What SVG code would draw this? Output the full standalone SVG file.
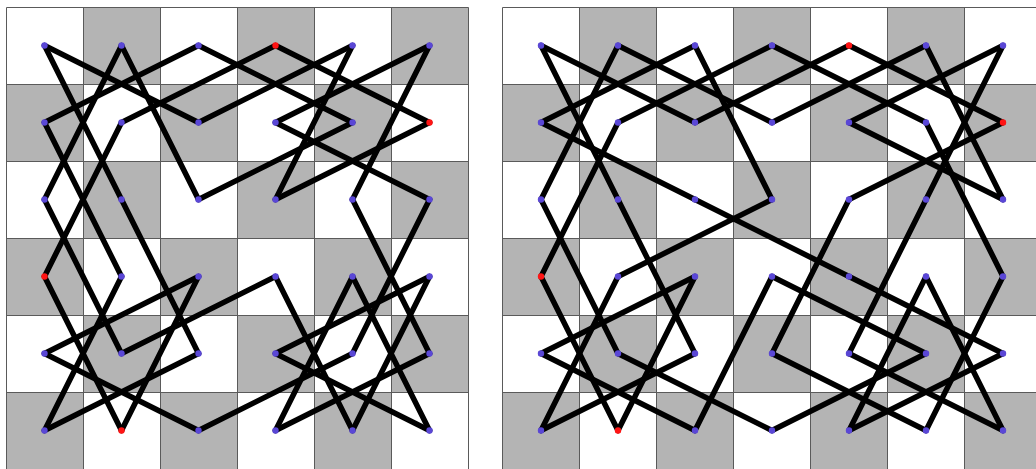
<svg xmlns="http://www.w3.org/2000/svg" width="1036" height="469" viewBox="0 0 1036 469">
<style>
.cell{fill:#b4b4b4}
.grid{stroke:#5a5a5a;stroke-width:1;fill:none}
.conn line{stroke:#000;stroke-width:5.5;stroke-linecap:round}
.dot{fill:#5a47d6}
.red{fill:#ff1414}
</style>
<rect width="1036" height="469" fill="#fff"/>
<defs>
<g id="cellsL">
<rect class="cell" x="0" y="0" width="77" height="77" transform="translate(77,0)"/>
</g>
</defs>
<g id="boardLeft">
<g class="cell">
<rect x="83.5" y="7.5" width="77" height="77"/><rect x="237.5" y="7.5" width="77" height="77"/><rect x="391.5" y="7.5" width="77" height="77"/>
<rect x="6.5" y="84.5" width="77" height="77"/><rect x="160.5" y="84.5" width="77" height="77"/><rect x="314.5" y="84.5" width="77" height="77"/>
<rect x="83.5" y="161.5" width="77" height="77"/><rect x="237.5" y="161.5" width="77" height="77"/><rect x="391.5" y="161.5" width="77" height="77"/>
<rect x="6.5" y="238.5" width="77" height="77"/><rect x="160.5" y="238.5" width="77" height="77"/><rect x="314.5" y="238.5" width="77" height="77"/>
<rect x="83.5" y="315.5" width="77" height="77"/><rect x="237.5" y="315.5" width="77" height="77"/><rect x="391.5" y="315.5" width="77" height="77"/>
<rect x="6.5" y="392.5" width="77" height="77"/><rect x="160.5" y="392.5" width="77" height="77"/><rect x="314.5" y="392.5" width="77" height="77"/>
</g>
<path class="grid" d="M6.5 7.5V469.5M83.5 7.5V469.5M160.5 7.5V469.5M237.5 7.5V469.5M314.5 7.5V469.5M391.5 7.5V469.5M468.5 7.5V469.5M6.5 7.5H468.5M6.5 84.5H468.5M6.5 161.5H468.5M6.5 238.5H468.5M6.5 315.5H468.5M6.5 392.5H468.5M6.5 469.5H468.5"/>
</g>
<g id="boardRight">
<g class="cell">
<rect x="579.5" y="7.5" width="77" height="77"/><rect x="733.5" y="7.5" width="77" height="77"/><rect x="887.5" y="7.5" width="77" height="77"/>
<rect x="502.5" y="84.5" width="77" height="77"/><rect x="656.5" y="84.5" width="77" height="77"/><rect x="810.5" y="84.5" width="77" height="77"/><rect x="964.5" y="84.5" width="77" height="77"/>
<rect x="579.5" y="161.5" width="77" height="77"/><rect x="733.5" y="161.5" width="77" height="77"/><rect x="887.5" y="161.5" width="77" height="77"/>
<rect x="502.5" y="238.5" width="77" height="77"/><rect x="656.5" y="238.5" width="77" height="77"/><rect x="810.5" y="238.5" width="77" height="77"/><rect x="964.5" y="238.5" width="77" height="77"/>
<rect x="579.5" y="315.5" width="77" height="77"/><rect x="733.5" y="315.5" width="77" height="77"/><rect x="887.5" y="315.5" width="77" height="77"/>
<rect x="502.5" y="392.5" width="77" height="77"/><rect x="656.5" y="392.5" width="77" height="77"/><rect x="810.5" y="392.5" width="77" height="77"/><rect x="964.5" y="392.5" width="77" height="77"/>
</g>
<path class="grid" d="M502.5 7.5V469.5M579.5 7.5V469.5M656.5 7.5V469.5M733.5 7.5V469.5M810.5 7.5V469.5M887.5 7.5V469.5M964.5 7.5V469.5M502.5 7.5H1041.5M502.5 84.5H1041.5M502.5 161.5H1041.5M502.5 238.5H1041.5M502.5 315.5H1041.5M502.5 392.5H1041.5M502.5 469.5H1041.5"/>
</g>
<g id="connectors" class="conn">
<line x1="44.5" y1="45.5" x2="121.5" y2="199.5"/>
<line x1="44.5" y1="45.5" x2="198.5" y2="122.5"/>
<line x1="121.5" y1="45.5" x2="44.5" y2="199.5"/>
<line x1="121.5" y1="45.5" x2="198.5" y2="199.5"/>
<line x1="198.5" y1="45.5" x2="44.5" y2="122.5"/>
<line x1="198.5" y1="45.5" x2="352.5" y2="122.5"/>
<line x1="44.5" y1="122.5" x2="121.5" y2="276.5"/>
<line x1="121.5" y1="122.5" x2="275.5" y2="45.5"/>
<line x1="121.5" y1="122.5" x2="44.5" y2="276.5"/>
<line x1="198.5" y1="122.5" x2="352.5" y2="45.5"/>
<line x1="44.5" y1="199.5" x2="121.5" y2="353.5"/>
<line x1="121.5" y1="199.5" x2="198.5" y2="353.5"/>
<line x1="198.5" y1="199.5" x2="352.5" y2="122.5"/>
<line x1="44.5" y1="276.5" x2="121.5" y2="430.5"/>
<line x1="121.5" y1="276.5" x2="44.5" y2="430.5"/>
<line x1="198.5" y1="276.5" x2="44.5" y2="353.5"/>
<line x1="198.5" y1="276.5" x2="121.5" y2="430.5"/>
<line x1="44.5" y1="353.5" x2="198.5" y2="430.5"/>
<line x1="44.5" y1="430.5" x2="198.5" y2="353.5"/>
<line x1="198.5" y1="430.5" x2="352.5" y2="353.5"/>
<line x1="121.5" y1="353.5" x2="275.5" y2="276.5"/>
<line x1="275.5" y1="45.5" x2="429.5" y2="122.5"/>
<line x1="352.5" y1="45.5" x2="275.5" y2="199.5"/>
<line x1="429.5" y1="45.5" x2="275.5" y2="122.5"/>
<line x1="429.5" y1="45.5" x2="352.5" y2="199.5"/>
<line x1="275.5" y1="122.5" x2="429.5" y2="199.5"/>
<line x1="429.5" y1="122.5" x2="275.5" y2="199.5"/>
<line x1="352.5" y1="199.5" x2="429.5" y2="353.5"/>
<line x1="429.5" y1="199.5" x2="352.5" y2="353.5"/>
<line x1="275.5" y1="276.5" x2="352.5" y2="430.5"/>
<line x1="352.5" y1="276.5" x2="275.5" y2="430.5"/>
<line x1="352.5" y1="276.5" x2="429.5" y2="430.5"/>
<line x1="429.5" y1="276.5" x2="275.5" y2="353.5"/>
<line x1="429.5" y1="276.5" x2="352.5" y2="430.5"/>
<line x1="275.5" y1="353.5" x2="429.5" y2="430.5"/>
<line x1="429.5" y1="353.5" x2="275.5" y2="430.5"/>
<line x1="541" y1="45.5" x2="695" y2="122.5"/>
<line x1="541" y1="45.5" x2="618" y2="199.5"/>
<line x1="618" y1="45.5" x2="541" y2="199.5"/>
<line x1="618" y1="45.5" x2="772" y2="122.5"/>
<line x1="695" y1="45.5" x2="541" y2="122.5"/>
<line x1="695" y1="45.5" x2="772" y2="199.5"/>
<line x1="541" y1="122.5" x2="695" y2="199.5"/>
<line x1="618" y1="122.5" x2="772" y2="45.5"/>
<line x1="618" y1="122.5" x2="541" y2="276.5"/>
<line x1="695" y1="122.5" x2="849" y2="45.5"/>
<line x1="541" y1="199.5" x2="618" y2="353.5"/>
<line x1="618" y1="199.5" x2="695" y2="353.5"/>
<line x1="695" y1="199.5" x2="849" y2="276.5"/>
<line x1="772" y1="45.5" x2="926" y2="122.5"/>
<line x1="849" y1="45.5" x2="1003" y2="122.5"/>
<line x1="926" y1="45.5" x2="772" y2="122.5"/>
<line x1="926" y1="45.5" x2="1003" y2="199.5"/>
<line x1="1003" y1="45.5" x2="849" y2="122.5"/>
<line x1="1003" y1="45.5" x2="926" y2="199.5"/>
<line x1="849" y1="122.5" x2="1003" y2="199.5"/>
<line x1="926" y1="122.5" x2="1003" y2="276.5"/>
<line x1="1003" y1="122.5" x2="849" y2="199.5"/>
<line x1="772" y1="199.5" x2="618" y2="276.5"/>
<line x1="849" y1="199.5" x2="772" y2="353.5"/>
<line x1="926" y1="199.5" x2="849" y2="353.5"/>
<line x1="541" y1="276.5" x2="618" y2="430.5"/>
<line x1="618" y1="276.5" x2="541" y2="430.5"/>
<line x1="695" y1="276.5" x2="541" y2="353.5"/>
<line x1="695" y1="276.5" x2="618" y2="430.5"/>
<line x1="541" y1="353.5" x2="695" y2="430.5"/>
<line x1="618" y1="353.5" x2="772" y2="430.5"/>
<line x1="695" y1="353.5" x2="541" y2="430.5"/>
<line x1="695" y1="430.5" x2="772" y2="276.5"/>
<line x1="772" y1="276.5" x2="926" y2="353.5"/>
<line x1="849" y1="276.5" x2="1003" y2="353.5"/>
<line x1="926" y1="276.5" x2="849" y2="430.5"/>
<line x1="926" y1="276.5" x2="1003" y2="430.5"/>
<line x1="1003" y1="276.5" x2="926" y2="430.5"/>
<line x1="772" y1="353.5" x2="926" y2="430.5"/>
<line x1="849" y1="353.5" x2="1003" y2="430.5"/>
<line x1="926" y1="353.5" x2="772" y2="430.5"/>
<line x1="1003" y1="353.5" x2="849" y2="430.5"/>
</g>
<g id="L-0-0"><circle class="dot" cx="44.5" cy="45.5" r="3.2"/></g>
<g id="L-1-0"><circle class="dot" cx="121.5" cy="45.5" r="3.2"/></g>
<g id="L-2-0"><circle class="dot" cx="198.5" cy="45.5" r="3.2"/></g>
<g id="L-3-0"><circle class="red" cx="275.5" cy="45.5" r="3.2"/></g>
<g id="L-4-0"><circle class="dot" cx="352.5" cy="45.5" r="3.2"/></g>
<g id="L-5-0"><circle class="dot" cx="429.5" cy="45.5" r="3.2"/></g>
<g id="L-0-1"><circle class="dot" cx="44.5" cy="122.5" r="3.2"/></g>
<g id="L-1-1"><circle class="dot" cx="121.5" cy="122.5" r="3.2"/></g>
<g id="L-2-1"><circle class="dot" cx="198.5" cy="122.5" r="3.2"/></g>
<g id="L-3-1"><circle class="dot" cx="275.5" cy="122.5" r="3.2"/></g>
<g id="L-4-1"><circle class="dot" cx="352.5" cy="122.5" r="3.2"/></g>
<g id="L-5-1"><circle class="red" cx="429.5" cy="122.5" r="3.2"/></g>
<g id="L-0-2"><circle class="dot" cx="44.5" cy="199.5" r="3.2"/></g>
<g id="L-1-2"><circle class="dot" cx="121.5" cy="199.5" r="3.2"/></g>
<g id="L-2-2"><circle class="dot" cx="198.5" cy="199.5" r="3.2"/></g>
<g id="L-3-2"><circle class="dot" cx="275.5" cy="199.5" r="3.2"/></g>
<g id="L-4-2"><circle class="dot" cx="352.5" cy="199.5" r="3.2"/></g>
<g id="L-5-2"><circle class="dot" cx="429.5" cy="199.5" r="3.2"/></g>
<g id="L-0-3"><circle class="red" cx="44.5" cy="276.5" r="3.2"/></g>
<g id="L-1-3"><circle class="dot" cx="121.5" cy="276.5" r="3.2"/></g>
<g id="L-2-3"><circle class="dot" cx="198.5" cy="276.5" r="3.2"/></g>
<g id="L-3-3"><circle class="dot" cx="275.5" cy="276.5" r="3.2"/></g>
<g id="L-4-3"><circle class="dot" cx="352.5" cy="276.5" r="3.2"/></g>
<g id="L-5-3"><circle class="dot" cx="429.5" cy="276.5" r="3.2"/></g>
<g id="L-0-4"><circle class="dot" cx="44.5" cy="353.5" r="3.2"/></g>
<g id="L-1-4"><circle class="dot" cx="121.5" cy="353.5" r="3.2"/></g>
<g id="L-2-4"><circle class="dot" cx="198.5" cy="353.5" r="3.2"/></g>
<g id="L-3-4"><circle class="dot" cx="275.5" cy="353.5" r="3.2"/></g>
<g id="L-4-4"><circle class="dot" cx="352.5" cy="353.5" r="3.2"/></g>
<g id="L-5-4"><circle class="dot" cx="429.5" cy="353.5" r="3.2"/></g>
<g id="L-0-5"><circle class="dot" cx="44.5" cy="430.5" r="3.2"/></g>
<g id="L-1-5"><circle class="red" cx="121.5" cy="430.5" r="3.2"/></g>
<g id="L-2-5"><circle class="dot" cx="198.5" cy="430.5" r="3.2"/></g>
<g id="L-3-5"><circle class="dot" cx="275.5" cy="430.5" r="3.2"/></g>
<g id="L-4-5"><circle class="dot" cx="352.5" cy="430.5" r="3.2"/></g>
<g id="L-5-5"><circle class="dot" cx="429.5" cy="430.5" r="3.2"/></g>
<g id="R-0-0"><circle class="dot" cx="541" cy="45.5" r="3.2"/></g>
<g id="R-1-0"><circle class="dot" cx="618" cy="45.5" r="3.2"/></g>
<g id="R-2-0"><circle class="dot" cx="695" cy="45.5" r="3.2"/></g>
<g id="R-3-0"><circle class="dot" cx="772" cy="45.5" r="3.2"/></g>
<g id="R-4-0"><circle class="red" cx="849" cy="45.5" r="3.2"/></g>
<g id="R-5-0"><circle class="dot" cx="926" cy="45.5" r="3.2"/></g>
<g id="R-6-0"><circle class="dot" cx="1003" cy="45.5" r="3.2"/></g>
<g id="R-0-1"><circle class="dot" cx="541" cy="122.5" r="3.2"/></g>
<g id="R-1-1"><circle class="dot" cx="618" cy="122.5" r="3.2"/></g>
<g id="R-2-1"><circle class="dot" cx="695" cy="122.5" r="3.2"/></g>
<g id="R-3-1"><circle class="dot" cx="772" cy="122.5" r="3.2"/></g>
<g id="R-4-1"><circle class="dot" cx="849" cy="122.5" r="3.2"/></g>
<g id="R-5-1"><circle class="dot" cx="926" cy="122.5" r="3.2"/></g>
<g id="R-6-1"><circle class="red" cx="1003" cy="122.5" r="3.2"/></g>
<g id="R-0-2"><circle class="dot" cx="541" cy="199.5" r="3.2"/></g>
<g id="R-1-2"><circle class="dot" cx="618" cy="199.5" r="3.2"/></g>
<g id="R-2-2"><circle class="dot" cx="695" cy="199.5" r="3.2"/></g>
<g id="R-3-2"><circle class="dot" cx="772" cy="199.5" r="3.2"/></g>
<g id="R-4-2"><circle class="dot" cx="849" cy="199.5" r="3.2"/></g>
<g id="R-5-2"><circle class="dot" cx="926" cy="199.5" r="3.2"/></g>
<g id="R-6-2"><circle class="dot" cx="1003" cy="199.5" r="3.2"/></g>
<g id="R-0-3"><circle class="red" cx="541" cy="276.5" r="3.2"/></g>
<g id="R-1-3"><circle class="dot" cx="618" cy="276.5" r="3.2"/></g>
<g id="R-2-3"><circle class="dot" cx="695" cy="276.5" r="3.2"/></g>
<g id="R-3-3"><circle class="dot" cx="772" cy="276.5" r="3.2"/></g>
<g id="R-4-3"><circle class="dot" cx="849" cy="276.5" r="3.2"/></g>
<g id="R-5-3"><circle class="dot" cx="926" cy="276.5" r="3.2"/></g>
<g id="R-6-3"><circle class="dot" cx="1003" cy="276.5" r="3.2"/></g>
<g id="R-0-4"><circle class="dot" cx="541" cy="353.5" r="3.2"/></g>
<g id="R-1-4"><circle class="dot" cx="618" cy="353.5" r="3.2"/></g>
<g id="R-2-4"><circle class="dot" cx="695" cy="353.5" r="3.2"/></g>
<g id="R-3-4"><circle class="dot" cx="772" cy="353.5" r="3.2"/></g>
<g id="R-4-4"><circle class="dot" cx="849" cy="353.5" r="3.2"/></g>
<g id="R-5-4"><circle class="dot" cx="926" cy="353.5" r="3.2"/></g>
<g id="R-6-4"><circle class="dot" cx="1003" cy="353.5" r="3.2"/></g>
<g id="R-0-5"><circle class="dot" cx="541" cy="430.5" r="3.2"/></g>
<g id="R-1-5"><circle class="red" cx="618" cy="430.5" r="3.2"/></g>
<g id="R-2-5"><circle class="dot" cx="695" cy="430.5" r="3.2"/></g>
<g id="R-3-5"><circle class="dot" cx="772" cy="430.5" r="3.2"/></g>
<g id="R-4-5"><circle class="dot" cx="849" cy="430.5" r="3.2"/></g>
<g id="R-5-5"><circle class="dot" cx="926" cy="430.5" r="3.2"/></g>
<g id="R-6-5"><circle class="dot" cx="1003" cy="430.5" r="3.2"/></g>
</svg>
